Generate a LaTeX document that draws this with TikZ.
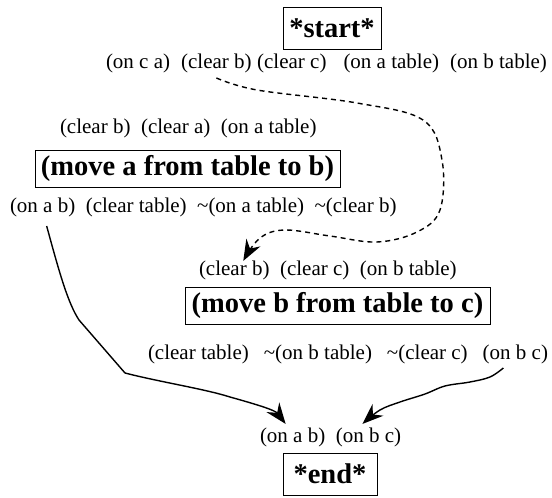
\documentclass[tikz,border=0pt]{standalone}
\usepackage{fontspec}
\setmainfont{Liberation Serif}
\usetikzlibrary{arrows.meta}
\begin{document}
\begin{tikzpicture}[x=1pt,y=-1pt,
  item/.style={inner sep=0pt, outer sep=0pt, font=\fontsize{21}{24}\selectfont, anchor=base west},
  op/.style={draw, line width=1pt, font=\fontsize{28.5}{32}\selectfont\bfseries, inner sep=0pt},
  link/.style={line width=1.4pt, -{Stealth[length=21pt,width=16pt,inset=7pt]}}]
\useasboundingbox (0,0) rectangle (552,498);
% operator boxes
\node[op, minimum width=98pt, minimum height=42pt] (start) at (332,28) {*start*};
\node[op, minimum width=305pt, minimum height=37pt] (mova) at (187.5,168.5) {(move a from table to b)};
\node[op, minimum width=305pt, minimum height=37pt] (movb) at (337.5,305.5) {(move b from table to c)};
\node[op, minimum width=94pt, minimum height=42pt] (end) at (330,474) {*end*};
% line 1
\node[item] (l1a) at (106,68.5) {(on c a)};
\node[item] (l1b) at ([xshift=11pt]l1a.base east) {(clear b)};
\node[item] (l1c) at ([xshift=5.5pt]l1b.base east) {(clear c)};
\node[item] (l1d) at ([xshift=17pt]l1c.base east) {(on a table)};
\node[item] (l1e) at ([xshift=11pt]l1d.base east) {(on b table)};
% line 2
\node[item] (l2a) at (60,133.5) {(clear b)};
\node[item] (l2b) at ([xshift=10.5pt]l2a.base east) {(clear a)};
\node[item] (l2c) at ([xshift=10.5pt]l2b.base east) {(on a table)};
% line 3
\node[item] (l3a) at (10,212.5) {(on a b)};
\node[item] (l3b) at ([xshift=10.5pt]l3a.base east) {(clear table)};
\node[item] (l3c) at ([xshift=10.5pt]l3b.base east) {\textasciitilde(on a table)};
\node[item] (l3d) at ([xshift=10.5pt]l3c.base east) {\textasciitilde(clear b)};
% line 4
\node[item] (l4a) at (199,275.5) {(clear b)};
\node[item] (l4b) at ([xshift=10.5pt]l4a.base east) {(clear c)};
\node[item] (l4c) at ([xshift=10.5pt]l4b.base east) {(on b table)};
% line 5
\node[item] (l5a) at (148,359.5) {(clear table)};
\node[item] (l5b) at ([xshift=15pt]l5a.base east) {\textasciitilde(on b table)};
\node[item] (l5c) at ([xshift=15pt]l5b.base east) {\textasciitilde(clear c)};
\node[item] (l5d) at ([xshift=15pt]l5c.base east) {(on b c)};
% line 6
\node[item] (l6a) at (260,442.5) {(on a b)};
\node[item] (l6b) at ([xshift=10.5pt]l6a.base east) {(on b c)};
% connectors
\draw[link, dash pattern=on 5pt off 4pt] plot[smooth, tension=0.6] coordinates {([yshift=-5pt]l1b.south) (257,90) (357,103) (423,120) (442,160) (440,210) (417,232) (377,242) (330,236) (285,230) (260,238) ([xshift=9pt]l4a.north)};
\draw[link] ([xshift=4pt,yshift=-9pt]l3a.south) .. controls (60,275) and (68,303) .. (79,320) -- (125,373) .. controls (160,382) and (205,389) .. (230,397) .. controls (255,404) and (275,410) .. ([xshift=-7pt,yshift=4pt]l6a.north);
\draw[link] plot[smooth, tension=0.6] coordinates {([xshift=-12pt,yshift=-4pt]l5d.south) (490,377) (470,382) (445,386) (425,394) (400,402) (380,410) ([xshift=-6pt,yshift=4pt]l6b.north)};
\end{tikzpicture}
\end{document}
